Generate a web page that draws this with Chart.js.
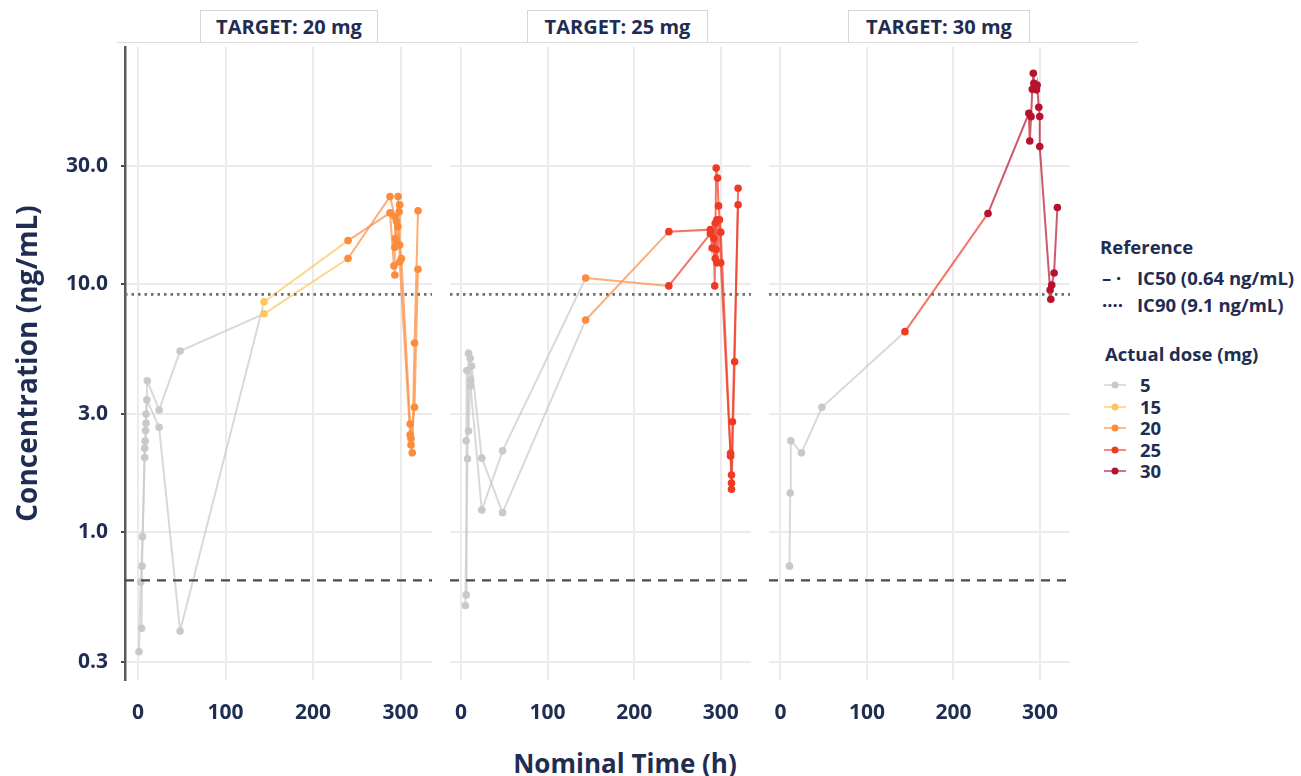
<!DOCTYPE html>
<html><head><meta charset="utf-8">
<script src="https://cdn.jsdelivr.net/npm/chart.js@4.4.1/dist/chart.umd.min.js"></script>
<style>
html,body{margin:0;padding:0;background:#fff}
body{width:1301px;height:776px;overflow:hidden;position:relative;font-family:"Open Sans",sans-serif;color:#1f2d52}
canvas{position:absolute;top:0}
.tab{position:absolute;top:10px;height:32px;background:#fff;border:1px solid #d6d6d6;border-bottom:none;font-weight:700;font-size:20px;text-align:center;line-height:32px;box-sizing:border-box;z-index:2;white-space:nowrap}
.hline{position:absolute;top:42px;height:1px;background:#dcdcdc;left:117px;width:1021px}
#xtitle{position:absolute;left:0;width:1250px;text-align:center;top:744px;font-weight:700;font-size:26px;line-height:38px}
.lg{position:absolute;font-weight:700;font-size:18.5px;line-height:24px;white-space:nowrap;height:24px}
.lg canvas{position:absolute;top:6px}
</style>
</head><body>
<div class="hline"></div>
<div id="tabs"></div>
<div id="xtitle">Nominal Time (h)</div>
<div id="legend"></div>
<script>
// ---------- data ----------
const DOSE_LEVELS = [5, 15, 20, 25, 30];
const DOSE_COLORS = ['#c9c9c9', '#fdc65a', '#fb8c3c', '#ef3b24', '#b8122f'];
const Y_TICKS = [0.3, 1, 3, 10, 30];
const X_TICKS = [0, 100, 200, 300];
const PANEL_TITLES = ['TARGET: 20 mg', 'TARGET: 25 mg', 'TARGET: 30 mg'];
const IC50 = 0.64;
const IC90 = 9.1;
const REF_LABELS = ['IC50 (0.64 ng/mL)', 'IC90 (9.1 ng/mL)'];

// TARGET 20 mg – subject A
const t20a_time = [1, 3, 5, 7.5, 8, 9, 10.5, 24, 48, 144, 240, 288, 293.5, 294, 295.4, 297, 299, 301, 311, 312, 313.4, 316, 320];
const t20a_conc = [0.33, 0.63, 0.96, 2.0, 2.33, 2.75, 4.08, 3.11, 5.38, 7.6, 12.7, 22.6, 18.7, 15.3, 14.6, 17.1, 14.4, 12.7, 2.73, 2.39, 2.09, 5.8, 19.8];
const t20a_dose = [5, 5, 5, 5, 5, 5, 5, 5, 5, 15, 20, 20, 20, 20, 20, 20, 20, 20, 20, 20, 20, 20, 20];
// TARGET 20 mg – subject B
const t20b_time = [4, 4.5, 7.5, 8.5, 9, 10, 24, 48, 144, 240, 288, 292.5, 293.5, 293.5, 295.4, 297.3, 298.4, 299.1, 299.1, 311, 312, 316, 320];
const t20b_conc = [0.41, 0.73, 2.18, 2.57, 3.0, 3.42, 2.65, 0.40, 8.5, 15.0, 19.4, 11.86, 10.9, 14.1, 17.9, 22.6, 19.6, 20.9, 12.3, 2.47, 2.25, 3.19, 11.5];
const t20b_dose = [5, 5, 5, 5, 5, 5, 5, 5, 15, 20, 20, 20, 20, 20, 20, 20, 20, 20, 20, 20, 20, 20, 20];
// TARGET 25 mg – subject C
const t25c_time = [5, 7.5, 8.7, 10.6, 11, 24, 48, 144, 240, 288, 292, 293, 294.7, 296.3, 297.4, 300, 311.3, 312.4, 312.4, 316, 320];
const t25c_conc = [0.507, 1.98, 5.27, 5.03, 3.89, 1.23, 2.13, 10.6, 9.85, 16.0, 15.3, 9.85, 29.4, 26.8, 20.7, 16.2, 2.08, 1.70, 1.49, 4.87, 24.4];
const t25c_dose = [5, 5, 5, 5, 5, 5, 5, 20, 25, 25, 25, 25, 25, 25, 25, 25, 25, 25, 25, 25, 25];
// TARGET 25 mg – subject D
const t25d_time = [6, 6, 6.8, 8.7, 11, 12.4, 24, 48, 144, 240, 288, 290, 293.6, 293.6, 294.7, 295.5, 295.5, 298.5, 300, 311.3, 312.4, 313.5, 320];
const t25d_conc = [0.559, 2.34, 4.49, 2.56, 4.11, 4.68, 1.99, 1.20, 7.18, 16.3, 16.6, 14.0, 17.6, 12.7, 13.8, 18.2, 12.2, 18.2, 12.2, 2.03, 1.58, 2.79, 20.9];
const t25d_dose = [5, 5, 5, 5, 5, 5, 5, 5, 20, 25, 25, 25, 25, 25, 25, 25, 25, 25, 25, 25, 25, 25, 25];
// TARGET 30 mg – subject E
const t30e_time = [10.5, 11.3, 12, 24.3, 48, 144, 240, 287.2, 288.3, 289.8, 291.2, 292.4, 293, 296, 296.8, 298.7, 299.8, 299.8, 311.8, 312.6, 313.7, 316.4, 320.2];
const t30e_conc = [0.73, 1.44, 2.34, 2.09, 3.19, 6.44, 19.3, 48.9, 37.8, 47.4, 61.1, 70.9, 64.6, 60.8, 63.6, 51.7, 47.5, 35.9, 9.48, 8.7, 9.93, 11.1, 20.4];
const t30e_dose = [5, 5, 5, 5, 5, 25, 30, 30, 30, 30, 30, 30, 30, 30, 30, 30, 30, 30, 30, 30, 30, 30, 30];

const PANEL_SUBJECTS = [
  [[t20a_time, t20a_conc, t20a_dose], [t20b_time, t20b_conc, t20b_dose]],
  [[t25c_time, t25c_conc, t25c_dose], [t25d_time, t25d_conc, t25d_dose]],
  [[t30e_time, t30e_conc, t30e_dose]]
];

// ---------- layout / style ----------
const NAVY = '#1f2d52';
const FONT = '"Open Sans", sans-serif';
const GRID = '#ebebeb';
const PANEL_CFG = [
  {canvasLeft: 0,   yWidth: 125, width: 436, xmin: -15.0, xmax: 336.0, tabLeft: 200, tabW: 178},
  {canvasLeft: 446, yWidth: 0,   width: 309, xmin: -12.7, xmax: 334.9, tabLeft: 527, tabW: 181},
  {canvasLeft: 765, yWidth: 0,   width: 309, xmin: -13.2, xmax: 334.8, tabLeft: 848, tabW: 182}
];
const Y_MIN = 0.2537, Y_MAX = 90.5;

function colorOf(d) { return DOSE_COLORS[DOSE_LEVELS.indexOf(d)]; }
function rgba(hex, a) {
  const n = parseInt(hex.slice(1), 16);
  return `rgba(${n >> 16},${(n >> 8) & 255},${n & 255},${a})`;
}

PANEL_SUBJECTS.forEach((subjects, i) => {
  const cfg = PANEL_CFG[i];
  const cv = document.createElement('canvas');
  cv.width = cfg.width; cv.height = 776;
  cv.style.left = cfg.canvasLeft + 'px';
  cv.style.width = cfg.width + 'px'; cv.style.height = '776px';
  document.body.appendChild(cv);

  const datasets = [
    {data: [{x: cfg.xmin, y: IC50}, {x: cfg.xmax, y: IC50}], borderColor: '#4a4a4a', borderWidth: 2.2, borderDash: [9, 7], pointRadius: 0},
    {data: [{x: cfg.xmin, y: IC90}, {x: cfg.xmax, y: IC90}], borderColor: '#6e6e6e', borderWidth: 2.6, borderDash: [2.5, 4], pointRadius: 0}
  ];
  subjects.forEach(([tm, cc, dd]) => {
    datasets.push({
      data: tm.map((t, k) => ({x: t, y: cc[k]})),
      borderWidth: 2,
      borderColor: rgba(colorOf(dd[0]), 0.7),
      segment: {borderColor: ctx => rgba(colorOf(dd[ctx.p0DataIndex]), 0.7)},
      pointRadius: 3.8,
      pointBorderWidth: 0,
      pointBackgroundColor: dd.map(d => colorOf(d)),
      tension: 0
    });
  });

  const first = i === 0;
  new Chart(cv, {
    type: 'line',
    data: {datasets},
    options: {
      responsive: false, animation: false, devicePixelRatio: 1,
      layout: {padding: {top: 47, right: 0, bottom: 0, left: 0}},
      plugins: {legend: {display: false}, tooltip: {enabled: false}},
      scales: {
        x: {
          type: 'linear', min: cfg.xmin, max: cfg.xmax,
          afterBuildTicks: s => { s.ticks = X_TICKS.map(v => ({value: v})); },
          afterFit: s => { s.height = 96; s.paddingLeft = 0; s.paddingRight = 0; },
          grid: {color: GRID, lineWidth: 2, drawTicks: false},
          border: {display: false},
          ticks: {padding: 20, color: NAVY, autoSkip: false, maxRotation: 0,
                  font: {family: FONT, size: 21, weight: 'bold'}}
        },
        y: {
          type: 'logarithmic', min: Y_MIN, max: Y_MAX,
          afterBuildTicks: s => { s.ticks = Y_TICKS.map(v => ({value: v})); },
          afterFit: s => { s.width = cfg.yWidth; s.paddingTop = 0; s.paddingBottom = 0; },
          grid: {color: GRID, lineWidth: 2, drawTicks: first, tickLength: 4, tickColor: '#444'},
          border: {display: first, color: '#5a5a5a', width: 2.5},
          ticks: {display: first, padding: 13, color: NAVY,
                  callback: v => Number(v).toFixed(1),
                  font: {family: FONT, size: 21, weight: 'bold'}},
          title: {display: first, text: 'Concentration (ng/mL)', color: NAVY,
                  padding: {top: 12, bottom: 0},
                  font: {family: FONT, size: 28, weight: 'bold'}}
        }
      }
    }
  });

  const tab = document.createElement('div');
  tab.className = 'tab';
  tab.style.left = cfg.tabLeft + 'px';
  tab.style.width = cfg.tabW + 'px';
  tab.textContent = PANEL_TITLES[i];
  document.getElementById('tabs').appendChild(tab);
});

// ---------- legend ----------
const lg = document.getElementById('legend');
function addLg(text, left, cy) {
  const d = document.createElement('div');
  d.className = 'lg';
  d.style.left = left + 'px';
  d.style.top = (cy - 12) + 'px';
  d.textContent = text;
  lg.appendChild(d);
  return d;
}
addLg('Reference', 1100, 247);
addLg('– ·', 1102, 278);
addLg(REF_LABELS[0], 1137, 278);
addLg('····', 1102, 305);
addLg(REF_LABELS[1], 1137, 305);
addLg('Actual dose (mg)', 1105, 354);
const DOSE_ROW_Y = [385, 407, 428, 450, 471];
DOSE_LEVELS.forEach((d, k) => {
  addLg(String(d), 1140, DOSE_ROW_Y[k]);
  const c = document.createElement('canvas');
  c.width = 24; c.height = 12;
  c.style.position = 'absolute';
  c.style.left = '1103px';
  c.style.top = (DOSE_ROW_Y[k] - 6) + 'px';
  const g = c.getContext('2d');
  g.strokeStyle = rgba(DOSE_COLORS[k], 0.6); g.lineWidth = 2;
  g.beginPath(); g.moveTo(1, 6); g.lineTo(23, 6); g.stroke();
  g.fillStyle = DOSE_COLORS[k];
  g.beginPath(); g.arc(12, 6, 3.5, 0, Math.PI * 2); g.fill();
  lg.appendChild(c);
});
</script>
</body></html>
